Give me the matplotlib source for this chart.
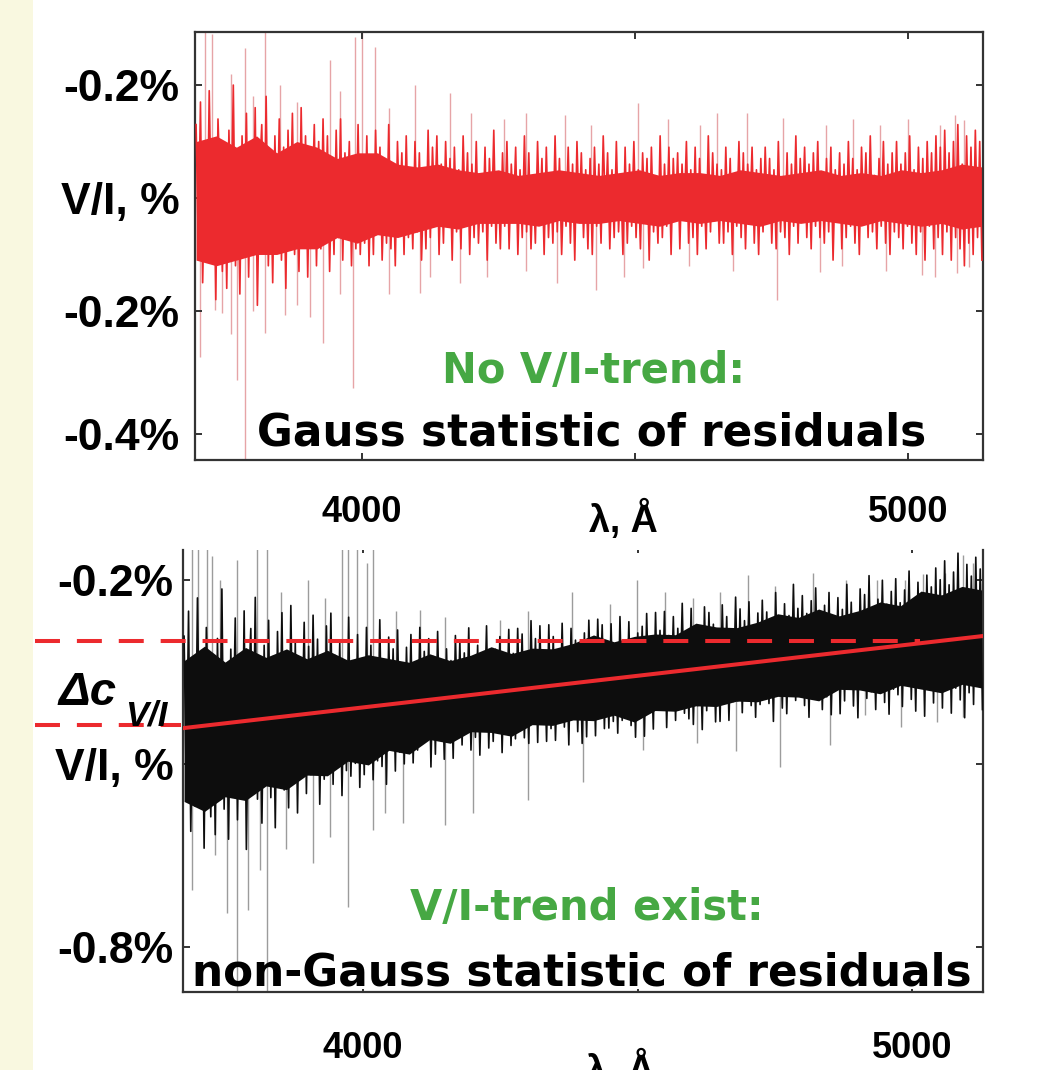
# -*- coding: utf-8 -*-
"""
V/I residual spectra: no trend (top) vs. linear trend (bottom).
"""

import numpy as np
import matplotlib as mpl
from matplotlib import pyplot as plt

mpl.use("Agg")

W, H = 1037, 1070  # output size in px at dpi 100

NARROW = ["Liberation Sans Narrow", "Liberation Sans", "DejaVu Sans"]
RED = "#ec2a2e"
PINK = "#e6a4a7"
GREEN = "#46a843"

# ---------------- top panel: no V/I trend ----------------
TOP_WL = (3696, 5136)
TOP_YLIM = (-0.464, 0.294)
TOP_YTICKS = [0.2, 0.0, -0.2, -0.418]
TOP_YLABELS = ["-0.2%", "V/I, %", "-0.2%", "-0.4%"]
# residuals V/I (%), equally spaced in wavelength
TOP_RESID = [
    0.13, -0.08, 0.17, -0.15, 0.05, -0.11, 0.19, -0.04, 0.10, -0.18, 0.14, 0.02, -0.13, 0.09, -0.16, 0.12, -0.06, 0.20, -0.12, 0.07,
    -0.17, 0.11, -0.03, 0.15, -0.14, 0.08, -0.10, 0.16, -0.19, 0.04, 0.13, -0.09, 0.18, -0.12, 0.06, -0.15, 0.11, -0.07, 0.14, -0.11,
    0.09, -0.16, 0.12, -0.05, 0.15, -0.10, 0.03, -0.13, 0.16, -0.08, 0.11, -0.14, 0.07, -0.02, 0.13, -0.12, 0.10, -0.09, 0.14, -0.06,
    0.11, -0.13, 0.05, -0.10, 0.12, -0.07, 0.14, -0.11, 0.08, -0.03, 0.10, -0.12, 0.06, -0.09, 0.13, -0.10, 0.04, -0.08, 0.11, -0.12,
    0.07, -0.10, 0.12, -0.05, 0.09, -0.11, 0.03, -0.08, 0.13, -0.09, 0.06, -0.12, 0.10, -0.04, 0.08, -0.10, 0.11, -0.07, 0.05, -0.09,
    0.10, -0.06, 0.08, -0.11, 0.04, -0.09, 0.12, -0.07, 0.09, -0.03, 0.11, -0.10, 0.06, -0.08, 0.10, -0.05, 0.07, -0.11, 0.09, -0.06,
    0.05, -0.09, 0.11, -0.04, 0.08, -0.10, 0.06, -0.07, 0.10, -0.08, 0.03, -0.06, 0.09, -0.11, 0.07, -0.05, 0.12, -0.08, 0.04, -0.09,
    0.08, -0.05, 0.10, -0.09, 0.06, -0.03, 0.09, -0.10, 0.05, -0.07, 0.11, -0.06, 0.08, -0.09, 0.04, -0.08, 0.10, -0.04, 0.07, -0.10,
    0.09, -0.07, 0.04, -0.08, 0.11, -0.06, 0.07, -0.10, 0.03, -0.05, 0.09, -0.08, 0.06, -0.11, 0.10, -0.04, 0.08, -0.07, 0.05, -0.09,
    0.07, -0.10, 0.09, -0.05, 0.06, -0.08, 0.11, -0.03, 0.08, -0.09, 0.05, -0.07, 0.10, -0.06, 0.04, -0.10, 0.09, -0.08, 0.06, -0.05,
    0.10, -0.07, 0.05, -0.09, 0.08, -0.04, 0.07, -0.11, 0.09, -0.06, 0.03, -0.08, 0.11, -0.07, 0.06, -0.05, 0.09, -0.10, 0.07, -0.04,
    0.08, -0.09, 0.06, -0.03, 0.10, -0.08, 0.05, -0.07, 0.09, -0.10, 0.07, -0.05, 0.04, -0.09, 0.11, -0.06, 0.08, -0.04, 0.06, -0.08,
    0.05, -0.08, 0.09, -0.06, 0.07, -0.10, 0.04, -0.05, 0.10, -0.07, 0.08, -0.09, 0.06, -0.03, 0.09, -0.08, 0.05, -0.10, 0.07, -0.06,
    0.09, -0.04, 0.07, -0.08, 0.05, -0.09, 0.10, -0.06, 0.03, -0.07, 0.08, -0.10, 0.06, -0.05, 0.11, -0.08, 0.07, -0.03, 0.09, -0.07,
    0.06, -0.09, 0.08, -0.05, 0.10, -0.07, 0.04, -0.08, 0.07, -0.06, 0.09, -0.11, 0.05, -0.04, 0.08, -0.09, 0.06, -0.07, 0.10, -0.05,
    0.07, -0.08, 0.05, -0.10, 0.09, -0.04, 0.08, -0.07, 0.11, -0.06, 0.04, -0.09, 0.07, -0.05, 0.10, -0.08, 0.06, -0.10, 0.08, -0.06,
    0.10, -0.07, 0.06, -0.09, 0.08, -0.05, 0.11, -0.08, 0.05, -0.10, 0.09, -0.06, 0.07, -0.11, 0.10, -0.05, 0.08, -0.09, 0.11, -0.07,
    0.09, -0.10, 0.12, -0.06, 0.08, -0.11, 0.10, -0.07, 0.13, -0.09, 0.06, -0.12, 0.11, -0.08, 0.09, -0.10, 0.12, -0.07, 0.10, -0.11,
]
# dense core of the noise band
TOP_CORE_HI = [
    0.10, 0.11, 0.09, 0.11, 0.08, 0.10, 0.09, 0.07, 0.08, 0.08, 0.06, 0.055, 0.06, 0.05, 0.045, 0.05, 0.04, 0.045, 0.05, 0.045,
    0.04, 0.045, 0.05, 0.04, 0.045, 0.045, 0.04, 0.05, 0.045, 0.04, 0.045, 0.05, 0.04, 0.045, 0.04, 0.05, 0.045, 0.05, 0.06, 0.055,
]
TOP_CORE_LO = [
    -0.11, -0.12, -0.11, -0.10, -0.10, -0.09, -0.09, -0.07, -0.08, -0.065, -0.07, -0.06, -0.05, -0.055, -0.045, -0.045, -0.045, -0.05, -0.04, -0.045,
    -0.045, -0.04, -0.045, -0.05, -0.04, -0.045, -0.04, -0.045, -0.05, -0.04, -0.045, -0.04, -0.045, -0.05, -0.04, -0.045, -0.05, -0.045, -0.055, -0.05,
]
# isolated faint outliers (wavelength, V/I end value)
TOP_SPIKE_WL = [
    3712, 3725, 3786, 3822, 3850, 3941, 3987, 4000, 4024, 4097, 4161, 4372, 4505, 4705, 4771, 5086, 5104,
    3760, 3800, 3880, 3960, 4050, 4200, 4260, 4300, 4420, 4560, 4620, 4650, 4850, 4900, 4950, 5000, 5060,
    3703, 3731, 3743, 3771, 3786, 3822, 3859, 3905, 3928, 3983, 4106, 4124, 4357, 4428, 4515, 4760, 4839, 5027, 5091, 5113,
    3760, 3800, 3880, 3960, 4050, 4180, 4230, 4300, 4480, 4600, 4680, 4880, 4960, 5050,
]
TOP_SPIKE_END = [
    0.30, 0.29, 0.265, 0.30, 0.20, 0.245, 0.285, 0.30, 0.267, 0.20, 0.186, 0.147, 0.168, 0.150, 0.142, 0.147, 0.138,
    0.22, 0.18, 0.17, 0.19, 0.16, 0.15, 0.14, 0.15, 0.13, 0.14, 0.13, 0.15, 0.13, 0.14, 0.13, 0.14, 0.13,
    -0.281, -0.198, -0.204, -0.322, -0.47, -0.239, -0.207, -0.211, -0.257, -0.336, -0.168, -0.14, -0.15, -0.163, -0.124, -0.18, -0.131, -0.136, -0.133, -0.122,
    -0.24, -0.20, -0.19, -0.17, -0.17, -0.15, -0.14, -0.13, -0.14, -0.12, -0.13, -0.12, -0.13, -0.14,
]

# ---------------- bottom panel: V/I trend exists ----------------
BOT_WL = (3674, 5128)
BOT_YLIM = (-0.873, -0.151)
BOT_YTICKS = [-0.2, -0.5, -0.8]
BOT_YLABELS = ["-0.2%", "V/I, %", "-0.8%"]
# fitted linear trend (end points)
TREND_WL = [3672, 5129]
TREND_VAL = [-0.442, -0.2915]
# levels of the two dashed lines marking delta C
DC_LEVELS = [-0.437, -0.300]
DC_WL_START = 3402
DC_WL_END = [3668, 5014]
# residuals around the trend (%), equally spaced in wavelength
BOT_RESID = [
    0.15, -0.10, 0.19, -0.17, 0.06, -0.13, 0.21, -0.05, 0.12, -0.20, 0.16, 0.03, -0.15, 0.10, -0.18, 0.14, -0.07, 0.22, -0.14, 0.08,
    -0.19, 0.12, -0.04, 0.17, -0.16, 0.09, -0.12, 0.18, -0.21, 0.05, 0.15, -0.11, 0.20, -0.13, 0.07, -0.17, 0.12, -0.08, 0.16, -0.13,
    0.10, -0.18, 0.14, -0.06, 0.17, -0.12, 0.04, -0.15, 0.18, -0.09, 0.12, -0.16, 0.08, -0.03, 0.15, -0.13, 0.11, -0.10, 0.16, -0.07,
    0.12, -0.15, 0.06, -0.11, 0.14, -0.08, 0.16, -0.12, 0.09, -0.04, 0.11, -0.14, 0.07, -0.10, 0.15, -0.11, 0.05, -0.09, 0.12, -0.13,
    0.08, -0.11, 0.13, -0.06, 0.10, -0.12, 0.04, -0.09, 0.14, -0.10, 0.07, -0.13, 0.11, -0.05, 0.09, -0.11, 0.12, -0.08, 0.06, -0.10,
    0.09, -0.07, 0.11, -0.10, 0.05, -0.08, 0.12, -0.06, 0.08, -0.04, 0.10, -0.11, 0.07, -0.09, 0.11, -0.05, 0.06, -0.10, 0.08, -0.07,
    0.06, -0.10, 0.10, -0.05, 0.09, -0.08, 0.07, -0.06, 0.11, -0.09, 0.04, -0.07, 0.08, -0.10, 0.06, -0.04, 0.11, -0.09, 0.05, -0.08,
    0.07, -0.06, 0.09, -0.10, 0.05, -0.04, 0.10, -0.09, 0.06, -0.08, 0.10, -0.05, 0.09, -0.08, 0.03, -0.09, 0.11, -0.05, 0.08, -0.09,
    0.10, -0.06, 0.05, -0.09, 0.10, -0.07, 0.08, -0.09, 0.04, -0.06, 0.10, -0.07, 0.05, -0.10, 0.09, -0.05, 0.07, -0.08, 0.06, -0.10,
    0.08, -0.09, 0.10, -0.04, 0.07, -0.09, 0.10, -0.04, 0.09, -0.08, 0.06, -0.08, 0.09, -0.07, 0.05, -0.09, 0.10, -0.07, 0.05, -0.06,
    0.09, -0.08, 0.06, -0.10, 0.07, -0.05, 0.08, -0.10, 0.10, -0.05, 0.04, -0.09, 0.10, -0.06, 0.07, -0.06, 0.10, -0.09, 0.06, -0.05,
    0.09, -0.08, 0.07, -0.04, 0.11, -0.07, 0.06, -0.08, 0.10, -0.09, 0.06, -0.06, 0.05, -0.10, 0.10, -0.07, 0.09, -0.05, 0.07, -0.09,
    0.06, -0.09, 0.10, -0.05, 0.08, -0.09, 0.05, -0.06, 0.11, -0.06, 0.09, -0.08, 0.07, -0.04, 0.10, -0.07, 0.06, -0.09, 0.08, -0.07,
    0.10, -0.05, 0.08, -0.07, 0.06, -0.10, 0.11, -0.05, 0.04, -0.08, 0.09, -0.09, 0.07, -0.06, 0.12, -0.07, 0.08, -0.04, 0.10, -0.08,
    0.07, -0.10, 0.09, -0.06, 0.11, -0.06, 0.05, -0.09, 0.08, -0.07, 0.10, -0.10, 0.06, -0.05, 0.09, -0.10, 0.07, -0.08, 0.11, -0.06,
    0.08, -0.09, 0.06, -0.11, 0.10, -0.05, 0.09, -0.08, 0.12, -0.07, 0.05, -0.10, 0.08, -0.06, 0.11, -0.09, 0.07, -0.11, 0.09, -0.07,
    0.11, -0.08, 0.07, -0.10, 0.09, -0.06, 0.12, -0.09, 0.06, -0.11, 0.10, -0.07, 0.08, -0.12, 0.11, -0.06, 0.09, -0.10, 0.12, -0.08,
    0.10, -0.11, 0.13, -0.07, 0.09, -0.12, 0.11, -0.08, 0.14, -0.10, 0.07, -0.13, 0.12, -0.09, 0.10, -0.11, 0.13, -0.08, 0.11, -0.12,
]
BOT_CORE_HI = [
    0.11, 0.13, 0.10, 0.12, 0.10, 0.11, 0.09, 0.10, 0.08, 0.085, 0.075, 0.065, 0.075, 0.06, 0.065, 0.075, 0.06, 0.065, 0.06, 0.065,
    0.075, 0.06, 0.065, 0.065, 0.06, 0.075, 0.065, 0.06, 0.065, 0.075, 0.065, 0.075, 0.06, 0.065, 0.075, 0.065, 0.085, 0.075, 0.085, 0.075,
]
BOT_CORE_LO = [
    -0.12, -0.14, -0.12, -0.13, -0.11, -0.12, -0.10, -0.105, -0.085, -0.095, -0.075, -0.085, -0.065, -0.075, -0.06, -0.065, -0.075, -0.06, -0.065, -0.06,
    -0.065, -0.06, -0.075, -0.06, -0.065, -0.06, -0.065, -0.06, -0.065, -0.06, -0.065, -0.075, -0.06, -0.065, -0.075, -0.065, -0.075, -0.085, -0.075, -0.085,
]
BOT_SPIKE_WL = [
    3688, 3699, 3716, 3725, 3770, 3807, 3825, 3962, 3973, 3989, 4007, 4018, 4104, 4249, 4380, 4499, 4600, 4701, 4819, 4936, 4987, 5060, 5093, 5111, 5124,
    3740, 3850, 3900, 3930, 4060, 4150, 4300, 4450, 4550, 4650, 4750, 4880, 5020,
    3688, 3752, 3770, 3790, 3812, 3825, 3909, 3973, 4018, 4073, 4150, 4200, 4510, 4608, 4759, 4914, 5045, 5093,
    3730, 3860, 3940, 4040, 4300, 4400, 4680, 4850, 4980,
]
BOT_SPIKE_END = [
    -0.14, -0.14, -0.14, -0.16, -0.167, -0.14, -0.14, -0.14, -0.14, -0.14, -0.172, -0.14, -0.249, -0.265, -0.22, -0.20, -0.23, -0.192, -0.189, -0.20, -0.20, -0.189, -0.159, -0.172, -0.205,
    -0.20, -0.22, -0.20, -0.23, -0.25, -0.26, -0.25, -0.24, -0.22, -0.22, -0.21, -0.20, -0.19,
    -0.707, -0.744, -0.88, -0.739, -0.674, -0.88, -0.662, -0.734, -0.608, -0.597, -0.60, -0.58, -0.478, -0.466, -0.506, -0.42, -0.432, -0.424,
    -0.65, -0.64, -0.62, -0.58, -0.56, -0.53, -0.48, -0.47, -0.44,
]

XTICKS = [4000, 4500, 5000]
XLABELS = ["4000", "", "5000"]


def px_box(left, top, right, bottom):
    return [left / W, 1 - bottom / H, (right - left) / W, (bottom - top) / H]


def style_axes(ax, xlim, ylim, yticks, ylabels, ypad, xpad, top_spine=True):
    ax.set_xlim(xlim)
    ax.set_ylim(ylim)
    ax.set_xticks(XTICKS)
    ax.set_xticklabels(XLABELS)
    ax.set_yticks(yticks)
    ax.set_yticklabels(ylabels)
    ax.tick_params(direction="in", length=5, width=1.4, color="#333333",
                   top=True, right=True)
    ax.tick_params(axis="y", pad=ypad, labelsize=32)
    ax.tick_params(axis="x", pad=xpad, labelsize=26)
    for lab in ax.get_xticklabels() + ax.get_yticklabels():
        lab.set_family(NARROW)
        lab.set_fontweight("bold")
    for name, sp in ax.spines.items():
        sp.set_color("#333333")
        sp.set_linewidth(1.6)
    if not top_spine:
        ax.spines["top"].set_visible(False)
        ax.tick_params(axis="x", top=True, length=2)


def draw_noise(ax, wl_range, resid, core_hi, core_lo, base, color):
    wl = np.linspace(wl_range[0], wl_range[1], len(resid))
    wl_core = np.linspace(wl_range[0], wl_range[1], len(core_hi))
    bc = base(wl_core)
    ax.fill_between(wl_core, bc + np.array(core_lo), bc + np.array(core_hi),
                    color=color, lw=0, zorder=2)
    ax.plot(wl, base(wl) + np.array(resid), color=color, lw=1.2, zorder=3)


def main():
    fig = plt.figure(figsize=(W / 100, H / 100), dpi=100)
    fig.patch.set_facecolor("white")
    # beige strip on the left
    fig.patches.append(mpl.patches.Rectangle((0, 0), 33 / W, 1, transform=fig.transFigure,
                                             facecolor="#f9f8e0", edgecolor="none", zorder=0))

    # ---- top ----
    ax1 = fig.add_axes(px_box(195, 32, 983, 460))
    ax1.vlines(TOP_SPIKE_WL, 0, TOP_SPIKE_END, color=PINK, lw=1.0, zorder=1)
    draw_noise(ax1, TOP_WL, TOP_RESID, TOP_CORE_HI, TOP_CORE_LO,
               lambda w: np.zeros_like(w, dtype=float), RED)
    style_axes(ax1, (3694, 5138), TOP_YLIM, TOP_YTICKS, TOP_YLABELS, ypad=11, xpad=25)
    ax1.set_xlabel("λ, Å", family=NARROW, fontweight="bold", fontsize=27)
    ax1.xaxis.set_label_coords((623 - 195) / (983 - 195), -0.093)

    # ---- bottom ----
    ax2 = fig.add_axes(px_box(183, 550, 983, 992))
    ax2.patch.set_alpha(0)
    trend = lambda w: np.interp(w, TREND_WL, TREND_VAL)
    ax2.vlines(BOT_SPIKE_WL, trend(np.array(BOT_SPIKE_WL)), BOT_SPIKE_END,
               color="#9c9c9c", lw=1.0, zorder=1)
    draw_noise(ax2, BOT_WL, BOT_RESID, BOT_CORE_HI, BOT_CORE_LO, trend, "#0d0d0d")
    ax2.plot(TREND_WL, TREND_VAL, color=RED, lw=2.9, zorder=5)
    for lvl, end in zip(DC_LEVELS, DC_WL_END):
        ax2.plot([DC_WL_START, end], [lvl, lvl], color=RED, lw=2.9, dashes=(6.2, 4.2),
                 clip_on=False, zorder=6)
    style_axes(ax2, (3672, 5129), BOT_YLIM, BOT_YTICKS, BOT_YLABELS, ypad=7, xpad=28, top_spine=False)
    ax2.set_xlabel("λ, Å", family=NARROW, fontweight="bold", fontsize=27)
    ax2.xaxis.set_label_coords((620 - 183) / (983 - 183), -0.131)

    # delta C label
    fig.text(58 / W, 1 - 705 / H, "Δc", family=["Liberation Sans", "DejaVu Sans"],
             fontweight="bold", style="italic", fontsize=34, va="baseline")
    fig.text(125 / W, 1 - 725 / H, "V/I", family=["Liberation Sans", "DejaVu Sans"],
             fontweight="bold", style="italic", fontsize=25, va="baseline", zorder=1)

    # annotations
    fig.text(594 / W, 1 - 383 / H, "No V/I-trend:", color=GREEN, fontsize=30,
             fontweight="bold", ha="center", va="baseline")
    fig.text(592 / W, 1 - 445 / H, "Gauss statistic of residuals", color="black", fontsize=31.5,
             fontweight="bold", ha="center", va="baseline")
    fig.text(587 / W, 1 - 920 / H, "V/I-trend exist:", color=GREEN, fontsize=30,
             fontweight="bold", ha="center", va="baseline")
    fig.text(582 / W, 1 - 985 / H, "non-Gauss statistic of residuals", color="black", fontsize=31.5,
             fontweight="bold", ha="center", va="baseline")

    plt.savefig("out.png", dpi=100)
    plt.close()


if __name__ == "__main__":
    main()
